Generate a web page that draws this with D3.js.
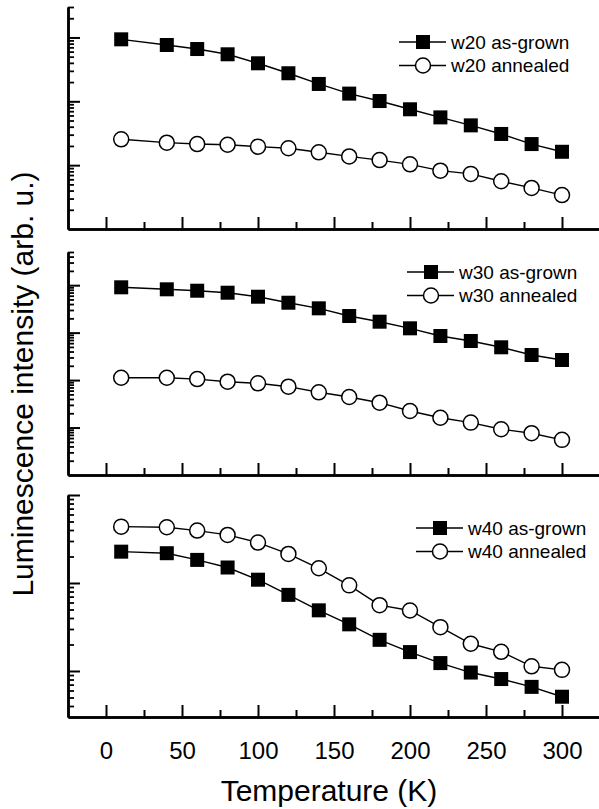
<!DOCTYPE html>
<html>
<head>
<meta charset="utf-8">
<script src="https://cdn.jsdelivr.net/npm/d3@7"></script>
<style>
  html, body { margin: 0; padding: 0; background: #fff; }
  svg { display: block; }
</style>
</head>
<body>
<div id="chart"></div>
<script>
// Data
const temperatures = [10, 40, 60, 80, 100, 120, 140, 160, 180, 200, 220, 240, 260, 280, 300];
const xTickValues = [0, 50, 100, 150, 200, 250, 300];
const xMinorTickValues = [25, 75, 125, 175, 225, 275];

const w20AsGrown = [935, 762, 659, 545, 394, 275, 187, 132, 101, 75, 56, 42, 30.8, 21.4, 16.2];
const w20Annealed = [25.4, 22.5, 21.4, 20.9, 19.5, 18.4, 15.9, 13.7, 12.0, 10.3, 8.2, 7.3, 5.6, 4.4, 3.4];
const w30AsGrown = [9015, 8180, 7640, 6935, 5710, 4266, 3251, 2240, 1700, 1233, 849, 666, 491, 338, 265];
const w30Annealed = [112, 112, 105, 92.5, 85.5, 72.6, 55.3, 44.0, 33.4, 22.3, 16.1, 12.7, 9.2, 7.6, 5.5];
const w40AsGrown = [227, 218, 183, 150, 109, 73.3, 48.9, 33.9, 22.6, 16.4, 12.3, 9.6, 8.1, 6.6, 5.1];
const w40Annealed = [437, 430, 394, 352, 288, 214, 147, 94, 56, 48.7, 31.5, 20.4, 16.5, 11.3, 10.3];

const panelNames = ["w20", "w30", "w40"];
const yDomains = [[1, 3000], [1, 50000], [3, 1000]];

// Layout
const attrs = {
  svgWidth: 599,
  svgHeight: 809,
  plotLeft: 68,
  plotRight: 600,
  xDomain: [-25, 325],
  panels: [
    { top: 7, bottom: 229, legendX: 399, legendY: 42 },
    { top: 252, bottom: 475, legendX: 407, legendY: 272 },
    { top: 495, bottom: 717, legendX: 416, legendY: 528 }
  ],
  legendRowGap: 23.5,
  font: "'Liberation Sans', Arial, Helvetica, sans-serif",
  squareSize: 14,
  circleRadius: 7.5
};

const series = [
  { asGrown: w20AsGrown, annealed: w20Annealed },
  { asGrown: w30AsGrown, annealed: w30Annealed },
  { asGrown: w40AsGrown, annealed: w40Annealed }
];

const svg = d3.select("#chart")
  .append("svg")
  .attr("width", attrs.svgWidth)
  .attr("height", attrs.svgHeight)
  .attr("font-family", attrs.font);

const x = d3.scaleLinear()
  .domain(attrs.xDomain)
  .range([attrs.plotLeft, attrs.plotRight]);

function drawMarker(g, kind, cx, cy) {
  if (kind === "square") {
    g.append("rect")
      .attr("x", cx - attrs.squareSize / 2)
      .attr("y", cy - attrs.squareSize / 2)
      .attr("width", attrs.squareSize)
      .attr("height", attrs.squareSize)
      .attr("fill", "#000");
  } else {
    g.append("circle")
      .attr("cx", cx)
      .attr("cy", cy)
      .attr("r", attrs.circleRadius)
      .attr("fill", "#fff")
      .attr("stroke", "#000")
      .attr("stroke-width", 1.5);
  }
}

function styleAxis(g, width) {
  g.select(".domain").attr("stroke", "#000").attr("stroke-width", 2.5);
  g.selectAll(".tick line").attr("stroke", "#000").attr("stroke-width", width);
}

attrs.panels.forEach((p, i) => {
  const name = panelNames[i];
  const data = series[i];
  const y = d3.scaleLog()
    .domain(yDomains[i])
    .range([p.bottom, p.top]);

  const g = svg.append("g").attr("class", "panel-" + name);

  // log ticks: decades are long, the rest short
  const allTicks = y.ticks().filter(v => v > yDomains[i][0] && v <= yDomains[i][1]);
  const isDecade = v => Math.abs(Math.log10(v) - Math.round(Math.log10(v))) < 1e-9;
  const majorY = allTicks.filter(isDecade);
  const minorY = allTicks.filter(v => !isDecade(v));

  g.append("g")
    .attr("transform", `translate(${attrs.plotLeft},0)`)
    .call(d3.axisLeft(y).tickValues(minorY).tickSizeInner(-6).tickSizeOuter(0).tickFormat(""))
    .call(a => styleAxis(a, 1.8));
  g.append("g")
    .attr("transform", `translate(${attrs.plotLeft},0)`)
    .call(d3.axisLeft(y).tickValues(majorY).tickSizeInner(-12).tickSizeOuter(0).tickFormat(""))
    .call(a => styleAxis(a, 2));

  // x axis, labels only on the bottom panel
  const isLast = i === attrs.panels.length - 1;
  g.append("g")
    .attr("transform", `translate(0,${p.bottom})`)
    .call(d3.axisBottom(x).tickValues(xMinorTickValues).tickSizeInner(-7).tickSizeOuter(0).tickFormat(""))
    .call(a => styleAxis(a, 2));
  const xAxisG = g.append("g")
    .attr("transform", `translate(0,${p.bottom})`)
    .call(d3.axisBottom(x).tickValues(xTickValues).tickSizeInner(-12).tickSizeOuter(0)
      .tickPadding(25).tickFormat(isLast ? d3.format("d") : ""))
    .call(a => styleAxis(a, 2));
  xAxisG.selectAll("text")
    .attr("font-size", 24)
    .attr("font-family", attrs.font)
    .attr("fill", "#000");

  // lines and markers
  const line = d3.line()
    .x((d, k) => x(temperatures[k]))
    .y(d => y(d));

  [["asGrown", "square"], ["annealed", "circle"]].forEach(([key, kind]) => {
    const sg = g.append("g").attr("class", key);
    sg.append("path")
      .datum(data[key])
      .attr("d", line)
      .attr("fill", "none")
      .attr("stroke", "#000")
      .attr("stroke-width", 1.4);
    data[key].forEach((v, k) => drawMarker(sg, kind, x(temperatures[k]), y(v)));
  });

  // legend
  const legend = g.append("g").attr("transform", `translate(${p.legendX},${p.legendY})`);
  [["as-grown", "square"], ["annealed", "circle"]].forEach(([label, kind], r) => {
    const ly = r * attrs.legendRowGap;
    legend.append("line")
      .attr("x1", 0).attr("x2", 47)
      .attr("y1", ly).attr("y2", ly)
      .attr("stroke", "#000")
      .attr("stroke-width", 1.4);
    drawMarker(legend, kind, 24, ly);
    legend.append("text")
      .attr("x", 52)
      .attr("y", ly)
      .attr("dy", "0.35em")
      .attr("font-size", 19)
      .text(name + " " + label);
  });
});

// axis titles
svg.append("text")
  .attr("x", 329)
  .attr("y", 801)
  .attr("text-anchor", "middle")
  .attr("font-size", 30)
  .text("Temperature (K)");

svg.append("text")
  .attr("transform", "translate(33,384) rotate(-90)")
  .attr("text-anchor", "middle")
  .attr("font-size", 30)
  .text("Luminescence intensity (arb. u.)");
</script>
</body>
</html>
